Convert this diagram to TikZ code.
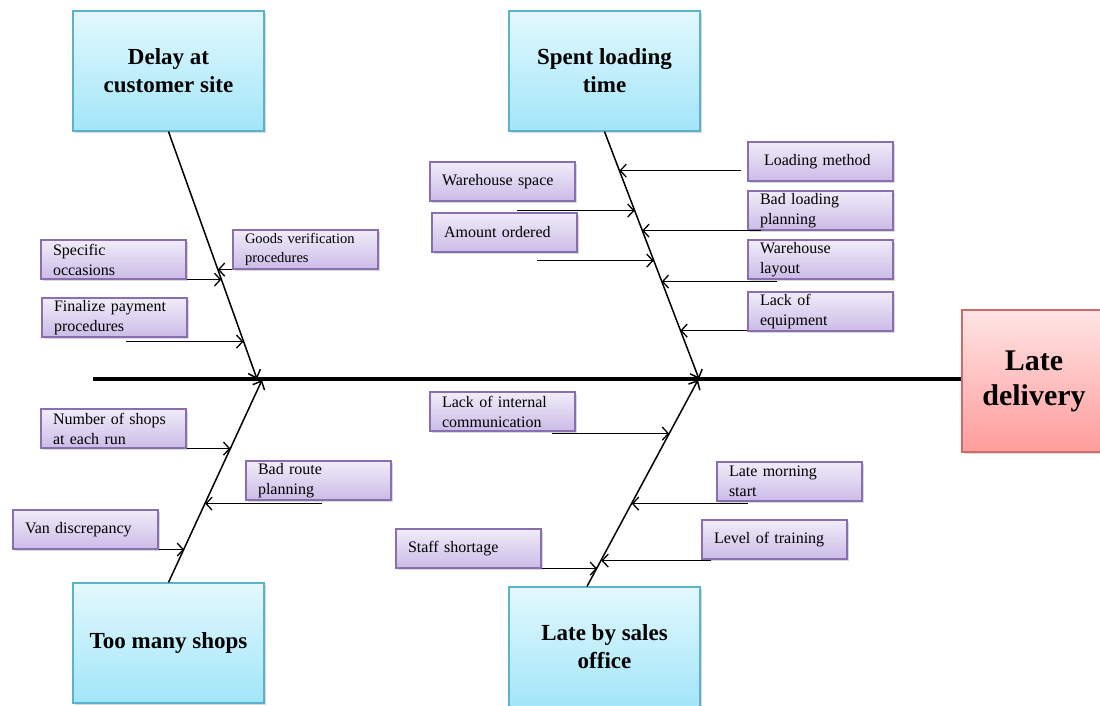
\documentclass[tikz,border=0pt]{standalone}
\usepackage{fontspec}
\setmainfont{Liberation Serif}
\usepackage{tikz}
\usetikzlibrary{
    arrows.meta,
    calc,
    shadows,
    positioning
}
\definecolor{causetop}{HTML}{E3F8FD}
\definecolor{causebot}{HTML}{A2E6F9}
\definecolor{causeline}{HTML}{5BB3CB}
\definecolor{subtop}{HTML}{F1ECF9}
\definecolor{subbot}{HTML}{CBBBE7}
\definecolor{subline}{HTML}{8A6FB0}
\definecolor{efftop}{HTML}{FFE4E4}
\definecolor{effbot}{HTML}{FF9C9C}
\definecolor{effline}{HTML}{CF6A6A}
\tikzset{
    causebox/.style={draw=causeline, line width=1.2pt, top color=causetop, bottom color=causebot,
        minimum width=191pt, minimum height=120pt, align=center,
        font=\bfseries\fontsize{23}{28}\selectfont,
        drop shadow={shadow xshift=1.5pt, shadow yshift=-1.5pt, opacity=.3}},
    effbox/.style={draw=effline, line width=1.2pt, top color=efftop, bottom color=effbot,
        minimum width=144pt, minimum height=142pt, align=center,
        font=\bfseries\fontsize{30}{35}\selectfont,
        drop shadow={shadow xshift=1.5pt, shadow yshift=-1.5pt, opacity=.3}},
    subbox/.style={draw=subline, line width=1.2pt, top color=subtop, bottom color=subbot,
        minimum width=145pt, minimum height=39pt, text width=121pt, inner xsep=12pt,
        inner ysep=0pt, align=left, font=\fontsize{16}{20}\selectfont,
        drop shadow={shadow xshift=1.5pt, shadow yshift=-1.5pt, opacity=.3}},
    bone/.style={line width=1.5pt, -{Straight Barb[length=7pt,width=13pt]}},
    cause/.style={line width=1.3pt, -{Straight Barb[length=6pt,width=13pt]}},
    spine/.style={line width=4.5pt}
}
\begin{document}
\begin{tikzpicture}[x=1pt, y=-1pt]
    \useasboundingbox (0,0) rectangle (1100,705);

    % main cause boxes and the effect
    \node[causebox] (delay) at (168.5, 71) {Delay at\\customer site};
    \node[causebox] (spent) at (604.5, 71) {Spent loading\\time};
    \node[causebox] (shops) at (168.5, 643) {Too many shops};
    \node[causebox] (sales) at (604.5, 647) {Late by sales\\office};
    \node[effbox] (effect) at (1034, 381) {Late\\delivery};

    % sub causes
    \node[subbox] (spec) at (113.5, 259.5) {Specific\\occasions};
    \node[subbox, font=\fontsize{14.5}{19}\selectfont] (goods) at (305.5, 249.5) {Goods verification\\procedures};
    \node[subbox] (final) at (114.5, 317.5) {Finalize payment\\procedures};
    \node[subbox] (whspace) at (502.5, 181.5) {Warehouse space};
    \node[subbox] (amount) at (504.5, 232.5) {Amount ordered};
    \node[subbox, inner xsep=16pt, text width=113pt] (loadm) at (820.5, 161.5) {Loading method};
    \node[subbox] (badload) at (820.5, 210.5) {Bad loading\\planning};
    \node[subbox] (whlay) at (820.5, 259.5) {Warehouse\\layout};
    \node[subbox] (lackeq) at (820.5, 311.5) {Lack of\\equipment};
    \node[subbox] (nshops) at (113.5, 428.5) {Number of shops\\at each run};
    \node[subbox] (badroute) at (318.5, 480.5) {Bad route\\planning};
    \node[subbox] (van) at (85.5, 529.5) {Van discrepancy};
    \node[subbox] (lackint) at (502.5, 411.5) {Lack of internal\\communication};
    \node[subbox] (latemorn) at (789.5, 481.5) {Late morning\\start};
    \node[subbox] (leveltr) at (774.5, 539.5) {Level of training};
    \node[subbox] (staff) at (468.5, 548.5) {Staff shortage};

    % spine and bones
    \coordinate (tail) at (93, 379);
    \coordinate (dtip) at (257, 379);
    \coordinate (stip) at (699, 379);
    \coordinate (mtip) at (262, 380);
    \coordinate (ltip) at (698, 380);
    \coordinate (lfoot) at ([xshift=-17.5pt]sales.north);
    \draw[spine] (tail) -- (tail -| effect.west);
    \draw
    (delay.south) edge[bone] (dtip)
    (spent.south) edge[bone] (stip)
    (shops.north) edge[bone] (mtip)
    (lfoot) edge[bone] (ltip);

    % where the small arrows start
    \coordinate (s1) at (spec.south east);
    \coordinate (s2) at (goods.south west);
    \coordinate (s3) at ([xshift=85pt, yshift=-4pt]final.south west);
    \coordinate (s4) at ([xshift=-6pt, yshift=11pt]loadm.south west);
    \coordinate (s5) at ([xshift=88pt, yshift=-9pt]whspace.south west);
    \coordinate (s6) at ([xshift=14pt]badload.south west);
    \coordinate (s7) at ([xshift=106pt, yshift=-8pt]amount.south west);
    \coordinate (s8) at ([xshift=30pt, yshift=-2pt]whlay.south west);
    \coordinate (s9) at ([yshift=1pt]lackeq.south west);
    \coordinate (s10) at (nshops.south east);
    \coordinate (s11) at ([xshift=77pt, yshift=-3pt]badroute.south west);
    \coordinate (s12) at (van.south east);
    \coordinate (s13) at ([xshift=-24pt, yshift=-2pt]lackint.south east);
    \coordinate (s14) at ([xshift=32pt, yshift=-2pt]latemorn.south west);
    \coordinate (s15) at ([xshift=10pt, yshift=-1pt]leveltr.south west);
    \coordinate (s16) at (staff.south east);

    % where they meet the bones
    \coordinate (t1) at (221.3, 279);
    \coordinate (t2) at (217.8, 269);
    \coordinate (t3) at (243.4, 341);
    \coordinate (t4) at (619.4, 170);
    \coordinate (t5) at (634.6, 210);
    \coordinate (t6) at (642.2, 230);
    \coordinate (t7) at (653.6, 260);
    \coordinate (t8) at (661.7, 281);
    \coordinate (t9) at (680.3, 330);
    \coordinate (t10) at (230.4, 448);
    \coordinate (t11) at (205.2, 503);
    \coordinate (t12) at (184.1, 549);
    \coordinate (t13) at (669.2, 433);
    \coordinate (t14) at (631.8, 503);
    \coordinate (t15) at (601.4, 560);
    \coordinate (t16) at (597.1, 568);

    \draw
    (s1) edge[cause] (s1 -| t1)
    (s2) edge[cause] (s2 -| t2)
    (s3) edge[cause] (s3 -| t3)
    (s4) edge[cause] (s4 -| t4)
    (s5) edge[cause] (s5 -| t5)
    (s6) edge[cause] (s6 -| t6)
    (s7) edge[cause] (s7 -| t7)
    (s8) edge[cause] (s8 -| t8)
    (s9) edge[cause] (s9 -| t9)
    (s10) edge[cause] (s10 -| t10)
    (s11) edge[cause] (s11 -| t11)
    (s12) edge[cause] (s12 -| t12)
    (s13) edge[cause] (s13 -| t13)
    (s14) edge[cause] (s14 -| t14)
    (s15) edge[cause] (s15 -| t15)
    (s16) edge[cause] (s16 -| t16);
\end{tikzpicture}
\end{document}
